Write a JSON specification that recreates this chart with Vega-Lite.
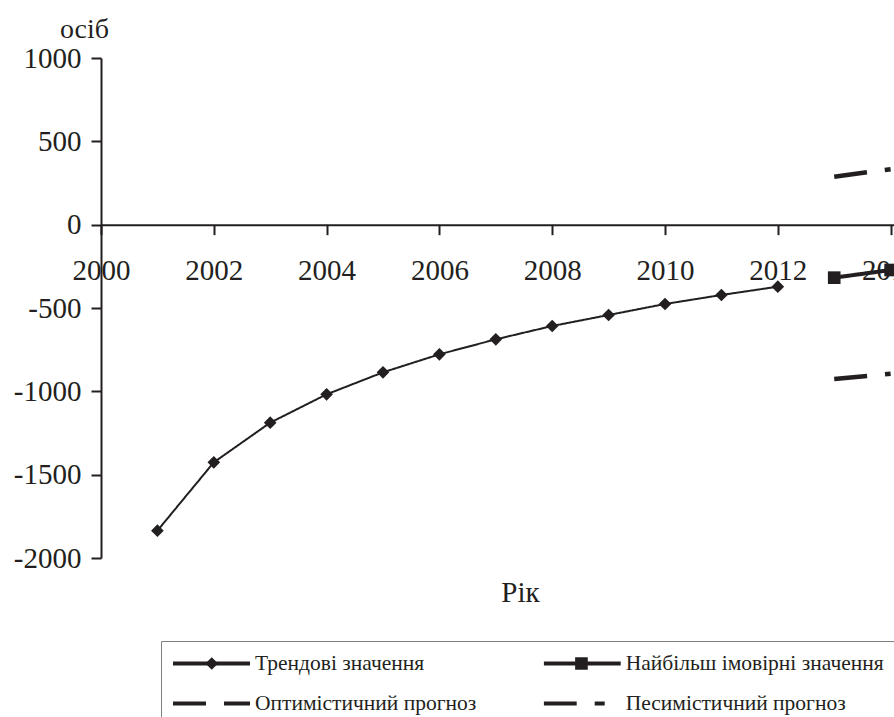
{
  "$schema": "https://vega.github.io/schema/vega-lite/v6.json",
  "width": 793,
  "height": 500,
  "autosize": {"type": "none"},
  "padding": {"left": 101, "top": 58, "right": 0, "bottom": 159},
  "background": "white",
  "config": {"view": {"stroke": null}, "font": "Liberation Serif", "legend": {"labelFont": "Liberation Serif"}},
  "data": {
    "values": [
      {"year": 2001, "value": -1836, "series": "Трендові значення"},
      {"year": 2002, "value": -1426, "series": "Трендові значення"},
      {"year": 2003, "value": -1188, "series": "Трендові значення"},
      {"year": 2004, "value": -1018, "series": "Трендові значення"},
      {"year": 2005, "value": -886, "series": "Трендові значення"},
      {"year": 2006, "value": -778, "series": "Трендові значення"},
      {"year": 2007, "value": -688, "series": "Трендові значення"},
      {"year": 2008, "value": -608, "series": "Трендові значення"},
      {"year": 2009, "value": -542, "series": "Трендові значення"},
      {"year": 2010, "value": -476, "series": "Трендові значення"},
      {"year": 2011, "value": -422, "series": "Трендові значення"},
      {"year": 2012, "value": -372, "series": "Трендові значення"},
      {"year": 2013, "value": -318, "series": "Найбільш імовірні значення"},
      {"year": 2014, "value": -272, "series": "Найбільш імовірні значення"},
      {"year": 2013, "value": 288, "series": "Оптимістичний прогноз"},
      {"year": 2014, "value": 333, "series": "Оптимістичний прогноз"},
      {"year": 2013, "value": -926, "series": "Песимістичний прогноз"},
      {"year": 2014, "value": -895, "series": "Песимістичний прогноз"}
    ]
  },
  "layer": [
    {
      "mark": {"type": "line", "clip": true, "strokeCap": "butt", "color": "#231f20"},
      "encoding": {
        "x": {
          "field": "year", "type": "quantitative",
          "scale": {"domain": [2000, 2014.06], "nice": false, "zero": false},
          "axis": {
            "values": [2000, 2002, 2004, 2006, 2008, 2010, 2012, 2014],
            "format": "d",
            "offset": -333.33,
            "grid": false,
            "tickSize": 10, "tickWidth": 2, "tickColor": "#231f20",
            "domainWidth": 2, "domainColor": "#231f20",
            "labelFont": "Liberation Serif", "labelFontSize": 29, "labelColor": "#231f20",
            "labelPadding": 22, "labelOverlap": false, "labelFlush": false, "labelBound": false,
            "title": "Рік",
            "titleFont": "Liberation Serif", "titleFontSize": 29, "titleFontWeight": "normal", "titleColor": "#231f20",
            "titleX": 419, "titleY": 377, "titleBaseline": "alphabetic", "titleAlign": "center"
          }
        },
        "y": {
          "field": "value", "type": "quantitative",
          "scale": {"domain": [-2000, 1000], "nice": false, "zero": false},
          "axis": {
            "values": [-2000, -1500, -1000, -500, 0, 500, 1000],
            "labelExpr": "'' + datum.value",
            "grid": false,
            "tickSize": 10, "tickWidth": 2, "tickColor": "#231f20",
            "domainWidth": 2, "domainColor": "#231f20",
            "labelFont": "Liberation Serif", "labelFontSize": 29, "labelColor": "#231f20",
            "labelPadding": 10,
            "title": "осіб",
            "titleFont": "Liberation Serif", "titleFontSize": 28, "titleFontWeight": "normal", "titleColor": "#231f20",
            "titleAngle": 0, "titleX": -17, "titleY": -21, "titleAlign": "center", "titleBaseline": "alphabetic"
          }
        },
        "strokeDash": {
          "field": "series", "type": "nominal",
          "scale": {
            "domain": ["Трендові значення", "Оптимістичний прогноз", "Найбільш імовірні значення", "Песимістичний прогноз"],
            "range": [[1, 0], [33, 18], [1, 0], [33, 18, 10, 18]]
          },
          "legend": {
            "orient": "none", "legendX": 60, "legendY": 583,
            "columns": 2, "title": null,
            "padding": 12, "strokeColor": "#808080",
            "columnPadding": 66.7, "rowPadding": 18, "clipHeight": 21,
            "symbolType": "stroke", "symbolSize": 5929, "symbolStrokeWidth": 4, "symbolStrokeColor": "#231f20",
            "symbolOffset": -2, "labelOffset": 3,
            "labelFont": "Liberation Serif", "labelFontSize": 21.5, "labelColor": "#231f20", "labelLimit": 0
          }
        },
        "strokeWidth": {
          "condition": [
            {"test": "datum.series === 'Трендові значення'", "value": 2},
            {"test": "datum.series === 'Найбільш імовірні значення'", "value": 4}
          ],
          "value": 4.5
        }
      }
    },
    {
      "transform": [{"filter": "datum.series === 'Трендові значення' || datum.series === 'Найбільш імовірні значення'"}],
      "mark": {"type": "point", "filled": true, "size": 160, "color": "#231f20", "opacity": 1},
      "encoding": {
        "x": {"field": "year", "type": "quantitative"},
        "y": {"field": "value", "type": "quantitative"},
        "shape": {
          "field": "series", "type": "nominal",
          "scale": {
            "domain": ["Трендові значення", "Найбільш імовірні значення"],
            "range": ["diamond", "square"]
          },
          "legend": {
            "orient": "none", "legendX": 60, "legendY": 583,
            "columns": 2, "title": null,
            "padding": 12, "strokeColor": null,
            "columnPadding": 117.7, "rowPadding": 18, "clipHeight": 21,
            "symbolSize": 160, "symbolStrokeWidth": 0,
            "symbolOffset": 28, "labelOffset": 33,
            "labelFont": "Liberation Serif", "labelFontSize": 21.5, "labelOpacity": 0, "labelLimit": 0
          }
        }
      }
    }
  ]
}
